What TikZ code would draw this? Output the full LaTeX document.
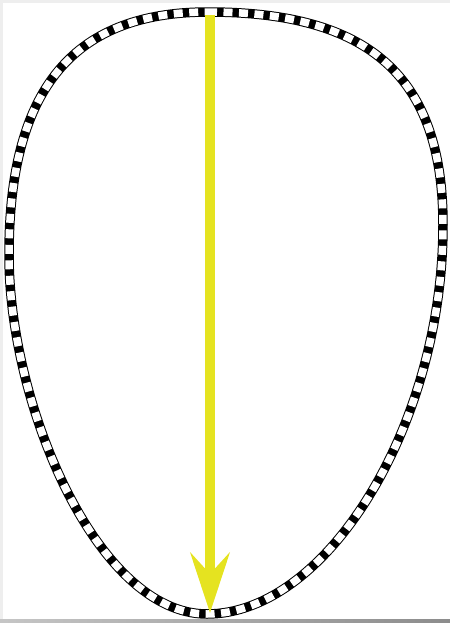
\documentclass[tikz,border=0pt]{standalone}
\usepackage{xcolor}
\usepackage{tikz}
\usetikzlibrary{arrows.meta}
\definecolor{dropyellow}{RGB}{229,227,32}
\definecolor{framegrey}{RGB}{238,238,238}
\definecolor{bargrey}{RGB}{140,140,140}
\tikzset{
  eggline/.style={draw=black, line width=0.19cm, line join=round},
  eggdash/.style={draw=white, line width=0.15cm, dash pattern=on 0.18cm off 0.13cm},
  droparrow/.style={-{Stealth[length=1.2cm, width=0.78cm, inset=0.42cm]},
    line width=0.22cm, color=dropyellow}
}

\begin{document}
\begin{tikzpicture}[x=0.02cm, y=-0.02cm]
    \useasboundingbox (0,0) rectangle (450,623);
    % Frame
    \fill[framegrey] (0,0) rectangle (450,3);
    \fill[framegrey] (0,0) rectangle (3,623);
    \fill[left color=bargrey!50, right color=bargrey] (0,619) rectangle (450,623);
    % Egg outline
    \def\eggpath{(208,12) .. controls (368,12) and (443,75) .. (443,225)
      .. controls (443,425) and (327,614) .. (207,614)
      .. controls (97,614) and (9,405) .. (9,255)
      .. controls (9,95) and (68,12) .. (208,12) -- cycle}
    \draw[eggline] \eggpath;
    \draw[eggdash] \eggpath;
    % Arrow
    \coordinate (start) at (210,15);
    \coordinate (tip) at (210,613);
    \draw[droparrow] (start) -- (tip);
\end{tikzpicture}
\end{document}
